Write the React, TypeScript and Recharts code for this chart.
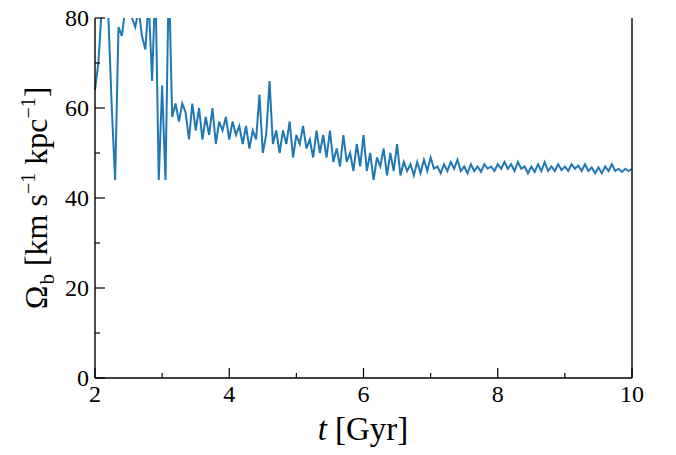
import { LineChart, Line, XAxis, YAxis } from 'recharts';

const omega = [
  64, 70, 82, 85, 80, 60, 44, 78, 76, 82, 84, 80, 78, 82, 76, 73, 84, 66, 88, 44,
  65, 44, 90, 58, 61, 57, 61, 59, 53, 61, 55, 60, 53, 58, 54, 60, 52, 57, 55, 58,
  53, 57, 54, 56, 52, 56, 51, 55, 53, 63, 50, 54, 66, 52, 55, 50, 55, 52, 57, 49,
  54, 52, 56, 51, 53, 49, 55, 50, 54, 49, 55, 48, 51, 47, 54, 48, 50, 46, 52, 47,
  54, 46, 50, 44, 49, 47, 51, 45, 50, 46, 52, 45, 48, 46, 47.5, 45, 48, 45.5, 48.5, 46,
  49, 46.5, 47, 45.5, 47.5, 46, 48, 46.5, 48.5, 46, 47, 45.5, 47.5, 46, 47, 45.8, 47.5, 46.5, 47, 46,
  47.5, 46.5, 48, 46.5, 47.5, 46, 48, 46.5, 47, 45.5, 47, 45.8, 47.5, 46, 48, 46, 47, 46, 47.5, 46.2,
  47, 46, 47.5, 46.5, 47.2, 46, 47.5, 46, 46.8, 45.5, 46.8, 45.5, 47, 46, 47.5, 46, 46.5, 45.8, 46.5, 46,
  46.5,
];
const data = omega.map((v, i) => ({ t: 2 + i * 0.05, v }));
const xTicks = [2, 3, 4, 5, 6, 7, 8, 9, 10];
const yTicks = [0, 10, 20, 30, 40, 50, 60, 70, 80];

const L = 95, R = 632, T = 18, B = 378;
const font = "'Liberation Serif', serif";
const sx = (t: number) => L + ((t - 2) / 8) * (R - L);
const sy = (v: number) => B - (v / 80) * (B - T);

const BottomTick = ({ payload }: any) => {
  const v = payload.value;
  const x = sx(v);
  const major = v % 2 === 0;
  return (
    <g>
      <line x1={x} x2={x} y1={B} y2={B - (major ? 10 : 5)} stroke="#000" strokeWidth={1.2} />
      {major && <text x={x} y={B + 24} textAnchor="middle" fontSize={24} fontFamily={font}>{v}</text>}
    </g>
  );
};
const TopTick = ({ payload }: any) => {
  const v = payload.value;
  const x = sx(v);
  return <line x1={x} x2={x} y1={T} y2={T + (v % 2 === 0 ? 10 : 5)} stroke="#000" strokeWidth={1.2} />;
};
const LeftTick = ({ payload }: any) => {
  const v = payload.value;
  const y = sy(v);
  const major = v % 20 === 0;
  return (
    <g>
      <line x1={L} x2={L + (major ? 10 : 5)} y1={y} y2={y} stroke="#000" strokeWidth={1.2} />
      {major && <text x={L - 6} y={y + 8} textAnchor="end" fontSize={24} fontFamily={font}>{v}</text>}
    </g>
  );
};
const RightTick = ({ payload }: any) => {
  const v = payload.value;
  const y = sy(v);
  return <line x1={R} x2={R - (v % 20 === 0 ? 10 : 5)} y1={y} y2={y} stroke="#000" strokeWidth={1.2} />;
};

export default function App() {
  return (
    <div style={{ margin: -8, width: 676, height: 455, background: '#fff' }}>
      <LineChart width={676} height={455} data={data} margin={{ top: T, right: 0, bottom: 0, left: 0 }}>
        <XAxis dataKey="t" type="number" domain={[2, 10]} ticks={xTicks} tick={<BottomTick />} tickLine={false}
          axisLine={{ stroke: '#000', strokeWidth: 1.4 }} height={455 - B}
          label={{ content: () => (
            <text x={363} y={440} textAnchor="middle" fontSize={33} fontFamily={font}>
              <tspan fontStyle="italic">t</tspan> [Gyr]
            </text>
          ) }} />
        <XAxis xAxisId="top" orientation="top" dataKey="t" type="number" domain={[2, 10]} ticks={xTicks}
          tick={<TopTick />} tickLine={false} axisLine={{ stroke: '#000', strokeWidth: 1.4 }} height={0} />
        <YAxis domain={[0, 80]} ticks={yTicks} allowDataOverflow tick={<LeftTick />} tickLine={false}
          axisLine={{ stroke: '#000', strokeWidth: 1.4 }} width={L}
          label={{ content: () => (
            <text x={47} y={198} transform="rotate(-90 47 198)" textAnchor="middle" fontSize={32} fontFamily={font}>
              Ω<tspan fontSize={21} dx={1} dy={7}>b</tspan>
              <tspan dy={-7}> [km s</tspan><tspan fontSize={20} dy={-12}>−1</tspan>
              <tspan dy={12}> kpc</tspan><tspan fontSize={20} dy={-12}>−1</tspan><tspan dy={12}>]</tspan>
            </text>
          ) }} />
        <YAxis yAxisId="right" orientation="right" domain={[0, 80]} ticks={yTicks} tick={<RightTick />}
          tickLine={false} axisLine={{ stroke: '#000', strokeWidth: 1.4 }} width={676 - R} />
        <Line dataKey="v" stroke="#1f77b4" strokeWidth={2} dot={false} isAnimationActive={false} />
      </LineChart>
    </div>
  );
}
